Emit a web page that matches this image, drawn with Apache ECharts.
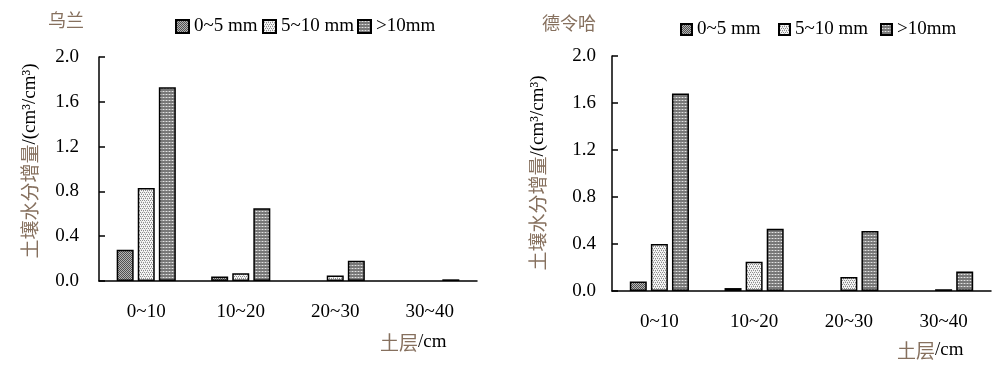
<!DOCTYPE html>
<html>
<head>
<meta charset="utf-8">
<script src="https://cdn.jsdelivr.net/npm/echarts@6/dist/echarts.min.js"></script>
<style>
html,body{margin:0;padding:0;background:#fff;}
#c{width:1000px;height:371px;}
</style>
</head>
<body>
<div id="c"></div>
<script>
// ---- data ----
const categories = ['0~10', '10~20', '20~30', '30~40'];
const seriesNames = ['0~5 mm', '5~10 mm', '>10mm'];
const wulan_0_5 = [0.28, 0.04, 0, 0];
const wulan_5_10 = [0.83, 0.07, 0.05, 0];
const wulan_gt10 = [1.73, 0.65, 0.18, 0.015];
const delingha_0_5 = [0.08, 0.025, 0, 0];
const delingha_5_10 = [0.40, 0.25, 0.12, 0.015];
const delingha_gt10 = [1.68, 0.53, 0.51, 0.165];
const titles = ['乌兰', '德令哈'];
const yName = ['土壤水分增量', '/(cm³/cm³)'];
const xName = ['土层', '/cm'];

// ---- patterns ----
function makePattern(size, draw) {
  const cv = document.createElement('canvas');
  cv.width = size; cv.height = size;
  const ctx = cv.getContext('2d');
  draw(ctx);
  return { image: cv, repeat: 'repeat' };
}
const pat1 = makePattern(2, ctx => {
  ctx.fillStyle = '#b4b4b4'; ctx.fillRect(0, 0, 2, 2);
  ctx.fillStyle = '#505050'; ctx.fillRect(0, 0, 1, 1); ctx.fillRect(1, 1, 1, 1);
});
const pat2 = makePattern(4, ctx => {
  ctx.fillStyle = '#f4f4f4'; ctx.fillRect(0, 0, 4, 4);
  ctx.fillStyle = '#8c8c8c';
  ctx.fillRect(0, 0, 1, 1); ctx.fillRect(2, 0, 1, 1);
  ctx.fillRect(1, 2, 1, 1); ctx.fillRect(3, 2, 1, 1);
  ctx.fillStyle = '#c4c4c4';
  ctx.fillRect(1, 1, 1, 1); ctx.fillRect(3, 3, 1, 1);
});
const pat3 = makePattern(3, ctx => {
  ctx.fillStyle = '#787878'; ctx.fillRect(0, 0, 3, 3);
  ctx.fillStyle = '#e4e4e4'; ctx.fillRect(1, 1, 1, 1);
  ctx.fillStyle = '#a4a4a4'; ctx.fillRect(0, 1, 1, 1); ctx.fillRect(2, 1, 1, 1);
});
const patterns = [pat1, pat2, pat3];

const serif = '"Liberation Serif","DejaVu Serif",serif';
const cjk = '"Noto Sans CJK SC",sans-serif';
const brown = '#86705e';

const grids = [
  { left: 99, right: 523, top: 57, bottom: 90 },
  { left: 612, right: 9, top: 56, bottom: 80 }
];

function xAxis(i) {
  return {
    type: 'category', gridIndex: i, data: categories,
    axisLine: { lineStyle: { color: '#000', width: 1.5 } },
    axisTick: { inside: true, length: 6, lineStyle: { color: '#000', width: 1.5 } },
    axisLabel: { color: '#000', fontFamily: serif, fontSize: 19, margin: 22 }
  };
}
function yAxis(i) {
  return {
    type: 'value', gridIndex: i, min: 0, max: 2, interval: 0.4,
    splitLine: { show: false },
    axisLine: { show: true, lineStyle: { color: '#000', width: 1.5 } },
    axisTick: { show: true, inside: true, length: 6, lineStyle: { color: '#000', width: 1.5 } },
    axisLabel: { color: '#000', fontFamily: serif, fontSize: 19, margin: i === 0 ? 20 : 16,
      formatter: v => v.toFixed(1) }
  };
}

const dataSets = [
  [wulan_0_5, wulan_5_10, wulan_gt10],
  [delingha_0_5, delingha_5_10, delingha_gt10]
];
const series = [];
dataSets.forEach((ds, gi) => {
  ds.forEach((vals, si) => {
    series.push({
      type: 'bar', name: seriesNames[si], xAxisIndex: gi, yAxisIndex: gi,
      data: vals.map(v => (v === 0 ? null : v)), barWidth: 17, barGap: '24%',
      itemStyle: { color: patterns[si], borderColor: '#000', borderWidth: 1.5 },
      emphasis: { disabled: true }
    });
  });
});

// legends: one per item for exact placement
const legendPos = [
  [[170, 190], [257, 272], [352, 368]],
  [[675, 698], [773, 792], [875, 892]]
];
const iconSize = [13, 11];
const legends = [];
legendPos.forEach((row, gi) => {
  row.forEach((p, si) => {
    legends.push({
      data: [seriesNames[si]], left: p[0], top: gi === 0 ? 12 : 15,
      itemWidth: iconSize[gi], itemHeight: iconSize[gi],
      itemGap: 0, itemTextGap: p[1] - p[0] - iconSize[gi],
      icon: 'rect', selectedMode: false,
      textStyle: { color: '#000', fontFamily: serif, fontSize: 19 }
    });
  });
});

function richName(parts, size) {
  return {
    text: '{a|' + parts[0] + '}{b|' + parts[1] + '}',
    rich: {
      a: { fill: brown, fontFamily: cjk, fontSize: size },
      b: { fill: '#000', fontFamily: serif, fontSize: size }
    }
  };
}

const chart = echarts.init(document.getElementById('c'));
chart.setOption({
  animation: false,
  backgroundColor: '#fff',
  grid: grids,
  xAxis: [xAxis(0), xAxis(1)],
  yAxis: [yAxis(0), yAxis(1)],
  legend: legends,
  series: series,
  graphic: [
    { type: 'text', left: 48, top: 11, style: { text: titles[0], fill: brown, font: '18px ' + cjk } },
    { type: 'text', left: 542, top: 14, style: { text: titles[1], fill: brown, font: '18px ' + cjk } },
    { type: 'text', x: 30, y: 161, rotation: Math.PI / 2,
      style: Object.assign(richName(yName, 19), { align: 'center', verticalAlign: 'middle' }) },
    { type: 'text', x: 538, y: 173, rotation: Math.PI / 2,
      style: Object.assign(richName(yName, 19), { align: 'center', verticalAlign: 'middle' }) },
    { type: 'text', left: 380, top: 333, style: richName(xName, 19) },
    { type: 'text', left: 897, top: 341, style: richName(xName, 19) }
  ]
});
</script>
</body>
</html>
